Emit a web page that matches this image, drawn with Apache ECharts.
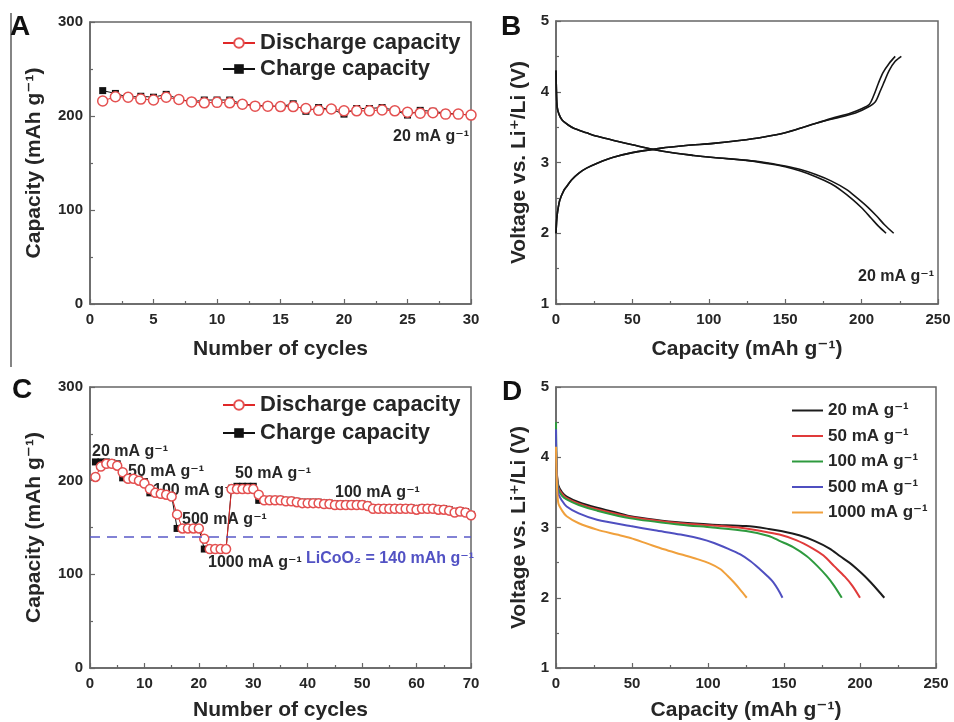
<!DOCTYPE html>
<html>
<head>
<meta charset="utf-8">
<script src="https://cdn.jsdelivr.net/npm/echarts@6/dist/echarts.min.js"></script>
<style>
  html, body { margin: 0; padding: 0; background: #fff; }
  #chart { width: 954px; height: 722px; }
</style>
</head>
<body>
<div id="chart"></div>
<script>
// ---- Panel A: cycling at 20 mA g-1 (cycle n = index + 1) ----
const dischargeA = [216, 220.5, 220, 218, 217, 220, 217.5, 215, 214, 214.5, 214, 212.5, 210.5, 210.5, 210,
                    210, 208, 206, 207.5, 205.5, 205.5, 205.5, 206.5, 205.5, 204, 203, 203.5, 202, 202, 201];
const chargeA    = [227, 224, 220, 221, 220, 223, 218, 215, 217, 217, 217, 213, 211, 211, 210,
                    213, 205, 209, 207, 202, 208, 208, 209, 206, 201, 206, 205, 203, 202, 201];

// ---- Panel B: charge / discharge profiles, two cycles [capacity, voltage] ----
const chargeB1 = [[0,2.0],[0.5,2.2],[1,2.3],[2.5,2.47],[5,2.6],[7,2.66],[10,2.75],[15,2.85],[20,2.92],[27,2.99],
  [37,3.07],[50,3.14],[68,3.2],[85,3.24],[103,3.27],[120,3.31],[136,3.36],[150,3.42],[165,3.52],[180,3.62],
  [193,3.7],[200,3.76],[205,3.82],[208,3.95],[211,4.12],[214,4.27],[218,4.4],[222,4.5]];
const chargeB2 = [[0,2.0],[0.5,2.2],[1,2.3],[2.5,2.47],[5,2.6],[7,2.66],[10,2.75],[15,2.85],[20,2.92],[27,2.99],
  [37,3.07],[50,3.14],[68,3.2],[85,3.24],[103,3.27],[120,3.31],[136,3.36],[150,3.42],[165,3.52],[180,3.61],
  [196,3.7],[204,3.78],[209,3.86],[212,4.0],[215,4.15],[218,4.3],[222,4.43],[226,4.5]];
const dischargeB1 = [[0,4.3],[0.3,4.0],[0.8,3.78],[2,3.68],[4,3.6],[8,3.53],[12,3.48],[20,3.42],[27,3.37],
  [40,3.3],[50,3.25],[70,3.16],[90,3.1],[103,3.07],[125,3.03],[140,2.98],[150,2.94],[160,2.88],[170,2.8],
  [180,2.7],[187,2.6],[194,2.48],[200,2.36],[206,2.22],[211,2.1],[216,2.0]];
const dischargeB2 = [[0,4.3],[0.3,4.0],[0.8,3.78],[2,3.68],[4,3.6],[8,3.53],[12,3.48],[20,3.42],[27,3.37],
  [40,3.3],[50,3.25],[70,3.16],[90,3.1],[103,3.07],[125,3.03],[140,2.99],[150,2.95],[160,2.9],[170,2.83],
  [180,2.74],[190,2.62],[197,2.5],[204,2.37],[210,2.24],[215,2.12],[221,2.0]];

// ---- Panel C: rate capability (cycle n = index + 1) ----
const dischargeC = [204, 215, 218, 218, 216, 209, 202, 202, 200, 197,
                    191, 187, 186, 185, 183, 164, 149, 149, 149, 149,
                    138, 127, 127, 127, 127, 191, 191, 191, 191, 191,
                    185, 179, 179, 179, 179, 178, 178, 177, 176, 176,
                    176, 176, 175, 175, 174, 174, 174, 174, 174, 174,
                    173, 170, 170, 170, 170, 170, 170, 170, 170, 169,
                    170, 170, 170, 169, 169, 168, 166, 167, 166, 163];
const chargeC    = [220, 220, 220, 219, 218, 203, 202, 202, 201, 199,
                    187, 187, 186, 185, 184, 149, 149, 149, 149, 149,
                    127, 127, 127, 127, 127, 192, 194, 194, 194, 194,
                    179, 180, 180, 180, 180, 179, 179, 178, 177, 177,
                    177, 177, 176, 176, 175, 175, 175, 175, 175, 175,
                    174, 171, 171, 171, 171, 171, 171, 171, 171, 170,
                    171, 171, 171, 170, 170, 169, 167, 168, 167, 164];
const licoo2Capacity = 140;
const rateLabelsC = ['20 mA g⁻¹', '50 mA g⁻¹', '100 mA g⁻¹', '500 mA g⁻¹', '1000 mA g⁻¹', '50 mA g⁻¹', '100 mA g⁻¹'];

// ---- Panel D: discharge profiles at different current densities ----
const rateNamesD = ['20 mA g⁻¹', '50 mA g⁻¹', '100 mA g⁻¹', '500 mA g⁻¹', '1000 mA g⁻¹'];
const rate20 = [[0,4.1],[0.5,3.8],[1.5,3.6],[4,3.5],[7,3.44],[15,3.36],[27,3.28],[40,3.21],[49,3.16],[65,3.11],
  [82,3.07],[103,3.04],[125,3.02],[140,2.98],[148,2.95],[160,2.89],[170,2.81],[180,2.7],[187,2.59],[193,2.5],
  [198,2.41],[203,2.31],[207,2.22],[212,2.1],[216,2.0]];
const rate50 = [[0,4.2],[0.5,3.8],[1.5,3.57],[4,3.48],[7,3.42],[15,3.34],[27,3.26],[49,3.15],[82,3.06],[103,3.03],
  [120,3.0],[135,2.95],[147,2.9],[158,2.82],[169,2.7],[176,2.6],[183,2.45],[190,2.3],[195,2.17],[200,2.0]];
const rate100 = [[0,4.5],[0.5,3.8],[1.5,3.55],[4,3.45],[7,3.4],[15,3.32],[27,3.24],[49,3.13],[82,3.04],[103,3.0],
  [125,2.95],[140,2.88],[147,2.81],[156,2.72],[165,2.59],[172,2.45],[178,2.31],[183,2.17],[188,2.0]];
const rate500 = [[0,4.4],[0.5,3.8],[1.5,3.49],[4,3.38],[7,3.3],[15,3.2],[27,3.11],[49,3.02],[65,2.96],[82,2.9],
  [95,2.84],[104,2.78],[113,2.7],[121,2.62],[128,2.52],[134,2.41],[139,2.31],[143,2.22],[146,2.12],[149,2.0]];
const rate1000 = [[0,4.15],[0.5,3.7],[1.5,3.35],[4,3.24],[7,3.16],[15,3.06],[27,2.97],[40,2.9],[49,2.85],[60,2.77],
  [71,2.69],[82,2.62],[93,2.55],[101,2.49],[108,2.41],[113,2.31],[117,2.22],[121,2.12],[125.5,2.0]];
const rateColorsD = ['#1c1c1c', '#e03a3a', '#2e9a3e', '#4f4fc0', '#f0a03c'];

// ---------------------------------------------------------------------------
const FONT = '"Liberation Sans", Arial, "DejaVu Sans", sans-serif';
const FRAME = '#666';
const TXT = '#262626';
const RED = '#e45050';

const withCycle = arr => arr.map((v, i) => [i + 1, v]);

function axis(grid, min, max, interval, name, nameGap, isY) {
  return {
    gridIndex: grid, type: 'value', min, max, interval,
    name, nameLocation: 'middle', nameGap,
    nameTextStyle: { fontFamily: FONT, fontWeight: 'bold', fontSize: 21, color: TXT },
    axisLine: { show: true, onZero: false, lineStyle: { color: FRAME, width: 1.5 } },
    axisTick: { show: true, inside: true, length: 5, lineStyle: { color: FRAME, width: 1.2 } },
    minorTick: { show: true, splitNumber: 2, length: 3, lineStyle: { color: FRAME, width: 1.2 } },
    splitLine: { show: false },
    axisLabel: { fontFamily: FONT, fontWeight: 'bold', fontSize: 15, color: TXT, margin: isY ? 7 : 8 }
  };
}

const grids = [
  { left: 90, top: 22, width: 381, height: 282 },
  { left: 556, top: 21, width: 382, height: 283 },
  { left: 90, top: 387, width: 381, height: 282 },
  { left: 556, top: 387, width: 380, height: 282 }
].map(g => Object.assign(g, { show: true, borderColor: FRAME, borderWidth: 1.5, backgroundColor: 'transparent' }));

const xAxes = [
  axis(0, 0, 30, 5, 'Number of cycles', 35, false),
  axis(1, 0, 250, 50, 'Capacity (mAh g⁻¹)', 35, false),
  axis(2, 0, 70, 10, 'Number of cycles', 32, false),
  axis(3, 0, 250, 50, 'Capacity (mAh g⁻¹)', 32, false)
];
const yAxes = [
  axis(0, 0, 300, 100, 'Capacity (mAh g⁻¹)', 45, true),
  axis(1, 1, 5, 1, 'Voltage vs. Li⁺/Li (V)', 26, true),
  axis(2, 0, 300, 100, 'Capacity (mAh g⁻¹)', 45, true),
  axis(3, 1, 5, 1, 'Voltage vs. Li⁺/Li (V)', 26, true)
];

function cycleSeries(name, grid, data, kind) {
  const isDis = kind === 'discharge';
  return {
    name, type: 'line', xAxisIndex: grid, yAxisIndex: grid, data,
    symbol: isDis ? 'circle' : 'rect',
    symbolSize: isDis ? 10 : 7,
    itemStyle: isDis ? { color: '#fff', borderColor: RED, borderWidth: 1.5 } : { color: '#111' },
    lineStyle: { color: isDis ? '#e02828' : '#111', width: 1 },
    z: isDis ? 4 : 3, animation: false, clip: false
  };
}

function profile(name, grid, data, color, width) {
  return {
    name, type: 'line', xAxisIndex: grid, yAxisIndex: grid, data,
    showSymbol: false, symbol: 'none', smooth: 0.3,
    lineStyle: { color, width }, itemStyle: { color },
    animation: false
  };
}

const series = [
  cycleSeries('Charge capacity', 0, withCycle(chargeA), 'charge'),
  cycleSeries('Discharge capacity', 0, withCycle(dischargeA), 'discharge'),
  profile('Charge, cycle 1', 1, chargeB1, '#151515', 1.6),
  profile('Charge, cycle 2', 1, chargeB2, '#151515', 1.6),
  profile('Discharge, cycle 1', 1, dischargeB1, '#151515', 1.6),
  profile('Discharge, cycle 2', 1, dischargeB2, '#151515', 1.6),
  cycleSeries('Charge capacity', 2, withCycle(chargeC), 'charge'),
  Object.assign(cycleSeries('Discharge capacity', 2, withCycle(dischargeC), 'discharge'), {
    symbolSize: 9,
    markLine: {
      silent: true, symbol: 'none', animation: false,
      label: { show: false },
      lineStyle: { color: '#5a5ac8', width: 1.5, type: [10, 7] },
      data: [{ yAxis: licoo2Capacity }]
    }
  }),
  profile(rateNamesD[0], 3, rate20, rateColorsD[0], 2),
  profile(rateNamesD[1], 3, rate50, rateColorsD[1], 2),
  profile(rateNamesD[2], 3, rate100, rateColorsD[2], 2),
  profile(rateNamesD[3], 3, rate500, rateColorsD[3], 2),
  profile(rateNamesD[4], 3, rate1000, rateColorsD[4], 2)
];

const legendText = size => ({ fontFamily: FONT, fontWeight: 'bold', fontSize: size, color: TXT });
const legends = [
  { left: 217, top: 27, orient: 'vertical', itemWidth: 32, itemHeight: 12, itemGap: 4,
    data: ['Discharge capacity', 'Charge capacity'], textStyle: legendText(22), selectedMode: false },
  { left: 217, top: 389, orient: 'vertical', itemWidth: 32, itemHeight: 12, itemGap: 6,
    data: ['Discharge capacity', 'Charge capacity'], textStyle: legendText(22), selectedMode: false },
  // plain line keys for the rate curves
  { left: 787, top: 397, orient: 'vertical', itemWidth: 31, itemHeight: 2, itemGap: 8.5,
    data: rateNamesD.map(n => ({ name: n, icon: 'rect' })), textStyle: legendText(17), selectedMode: false }
];

// text elements placed with their vertical centre at y
function tag(text, x, y, size, color) {
  return { type: 'text', x, y,
    style: { text, fontFamily: FONT, fontWeight: 'bold', fontSize: size, fill: color || TXT,
             verticalAlign: 'middle', align: 'left' } };
}

const graphic = [
  { type: 'line', shape: { x1: 11, y1: 13, x2: 11, y2: 367 }, style: { stroke: '#333', lineWidth: 1.2 } },
  tag('A', 10, 27, 28, '#111'),
  tag('B', 501, 27, 28, '#111'),
  tag('C', 12, 390, 28, '#111'),
  tag('D', 502, 392, 28, '#111'),
  tag('20 mA g⁻¹', 393, 137, 16),
  tag('20 mA g⁻¹', 858, 277, 16),
  tag(rateLabelsC[0], 92, 452, 16),
  tag(rateLabelsC[1], 128, 472, 16),
  tag(rateLabelsC[2], 153, 491, 16),
  tag(rateLabelsC[3], 182, 520, 16),
  tag(rateLabelsC[4], 208, 563, 16),
  tag(rateLabelsC[5], 235, 474, 16),
  tag(rateLabelsC[6], 335, 493, 16),
  tag('LiCoO₂ = ' + licoo2Capacity + ' mAh g⁻¹', 306, 559, 16, '#5252c4')
];

const chart = echarts.init(document.getElementById('chart'), null, { renderer: 'canvas' });
chart.setOption({
  backgroundColor: '#fff',
  animation: false,
  textStyle: { fontFamily: FONT },
  grid: grids,
  xAxis: xAxes,
  yAxis: yAxes,
  legend: legends,
  series,
  graphic
});
</script>
</body>
</html>
